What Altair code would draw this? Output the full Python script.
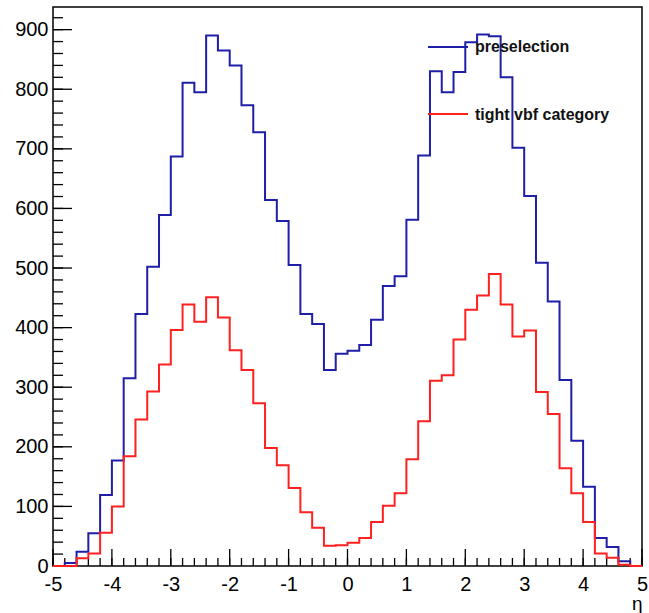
import altair as alt
import pandas as pd

# bin left edges: 50 bins of width 0.2 from -5 to 5
bin_left = [round(-5 + 0.2 * i, 1) for i in range(50)]

preselection = [0, 5, 24, 55, 119, 177, 315, 423, 502, 589,
                687, 811, 795, 890, 865, 840, 773, 728, 614, 579,
                505, 423, 406, 329, 356, 361, 371, 413, 470, 486,
                581, 689, 830, 795, 829, 879, 892, 889, 820, 702,
                621, 509, 444, 312, 210, 133, 47, 32, 8, 0]

tight_vbf = [0, 0, 13, 21, 56, 100, 184, 246, 293, 338,
             396, 439, 410, 451, 417, 362, 329, 273, 198, 169,
             131, 90, 64, 34, 35, 39, 47, 74, 101, 122,
             179, 243, 311, 320, 380, 430, 454, 490, 439, 385,
             395, 292, 255, 164, 122, 74, 21, 14, 2, 0]

series_names = ["preselection", "tight vbf category"]
series_colors = ["#1e1ea6", "#ff2020"]

x_major = [-5, -4, -3, -2, -1, 0, 1, 2, 3, 4, 5]
x_minor = [round(-5 + 0.2 * i, 1) for i in range(51)]
y_major = [0, 100, 200, 300, 400, 500, 600, 700, 800, 900]
y_minor = list(range(0, 940, 20))

W, H = 589, 559
YMAX = 938

rows = []
for name, vals in zip(series_names, [preselection, tight_vbf]):
    for x, v in zip(bin_left, vals):
        rows.append({"x": x, "y": v, "s": name})
    rows.append({"x": 5.0, "y": vals[-1], "s": name})
df = pd.DataFrame(rows)

xs = alt.Scale(domain=[-5, 5], nice=False, zero=False)
ys = alt.Scale(domain=[0, YMAX], nice=False)

lines = alt.Chart(df).mark_line(interpolate="step-after", strokeWidth=2).encode(
    x=alt.X("x:Q", scale=xs, axis=alt.Axis(
        values=x_major, labelExpr="'' + datum.value", tickSize=0, domain=False, grid=False,
        labelFontSize=20, labelFont="Liberation Sans", labelColor="#000",
        labelPadding=8, labelFlush=False, labelOverlap=False,
        title="η", titleFontSize=19, titleFont="Liberation Sans",
        titleFontWeight="normal", titleAnchor="end", titleAlign="right",
        titlePadding=0, titleColor="#000")),
    y=alt.Y("y:Q", scale=ys, axis=alt.Axis(
        values=y_major, labelExpr="'' + datum.value", tickSize=0, domain=False, grid=False,
        labelFontSize=20, labelFont="Liberation Sans", labelColor="#000",
        labelPadding=5, labelFlush=False, labelOverlap=False, title=None)),
    color=alt.Color("s:N", scale=alt.Scale(domain=series_names, range=series_colors), legend=None),
    detail="s:N",
)

def xticks(vals, length):
    return alt.Chart(pd.DataFrame({"v": vals})).mark_rule(color="#000", strokeWidth=1.3).encode(
        x=alt.X("v:Q", scale=xs), y=alt.value(H), y2=alt.value(H - length))

def yticks(vals, length):
    return alt.Chart(pd.DataFrame({"v": vals})).mark_rule(color="#000", strokeWidth=1.3).encode(
        y=alt.Y("v:Q", scale=ys), x=alt.value(0), x2=alt.value(length))

leg_df = pd.DataFrame({"s": series_names, "ly": [40, 107], "ty": [44.7, 113]})
leg_lines = alt.Chart(leg_df).mark_rule(strokeWidth=2).encode(
    x=alt.value(375), x2=alt.value(415), y=alt.Y("ly:Q", scale=None),
    color=alt.Color("s:N", scale=alt.Scale(domain=series_names, range=series_colors), legend=None))
leg_text = alt.Chart(leg_df).mark_text(
    align="left", baseline="alphabetic", font="Liberation Sans", fontWeight="bold",
    fontSize=16, color="#111").encode(
    x=alt.value(422), y=alt.Y("ty:Q", scale=None), text="s:N")

chart = alt.layer(
    xticks(x_minor, 8), xticks(x_major, 17), yticks(y_minor, 10), yticks(y_major, 19),
    lines, leg_lines, leg_text,
).properties(
    width=W, height=H,
    autosize=alt.AutoSizeParams(type="none"),
    padding={"left": 53, "top": 7, "right": 7, "bottom": 47},
    background="white",
).configure_view(stroke="#000", strokeWidth=1.5)

chart.save("out.html", embed_options={"renderer": "svg", "actions": False})
